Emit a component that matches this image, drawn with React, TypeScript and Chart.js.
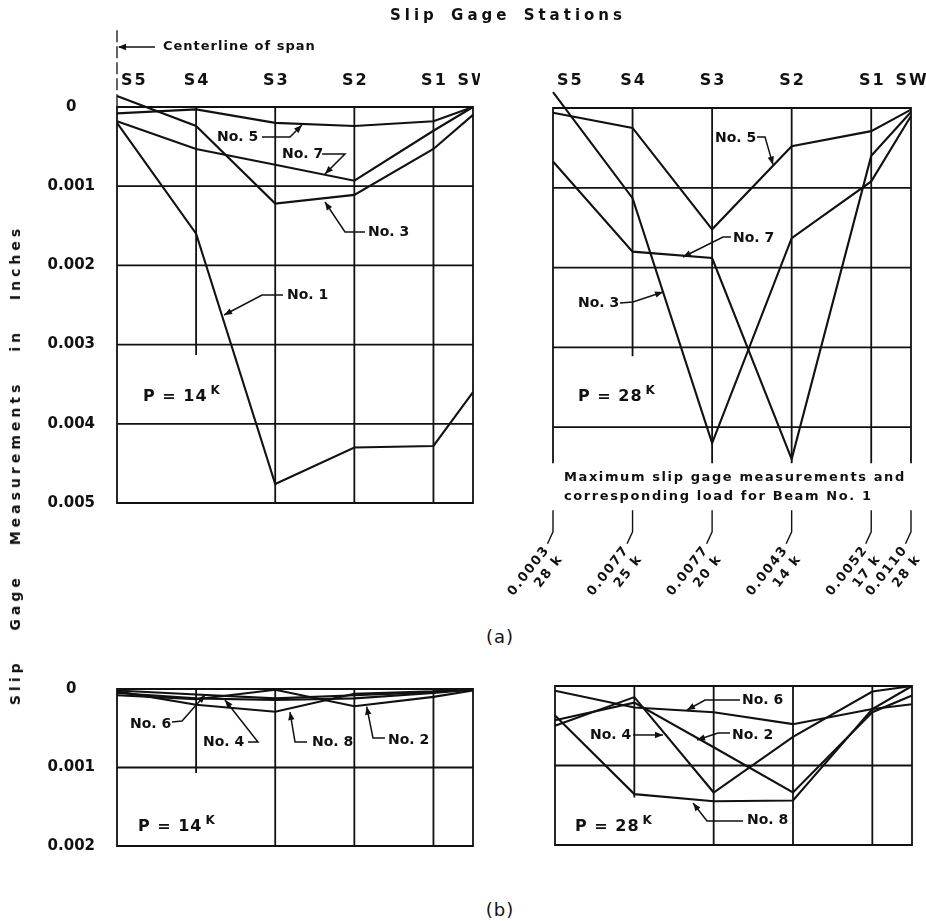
import React, { useEffect, useRef } from 'react';
import { Chart, registerables } from 'chart.js';

Chart.register(...registerables);

// ---------------- Data ----------------
const stations = ['S5', 'S4', 'S3', 'S2', 'S1', 'SW'];
const stationPos = [0, 1, 2, 3, 4, 4.5];

const yTicksA = [0, 0.001, 0.002, 0.003, 0.004, 0.005];
const yTickLabelsA = ['0', '0.001', '0.002', '0.003', '0.004', '0.005'];
const yTicksB = [0, 0.001, 0.002];
const yTickLabelsB = ['0', '0.001', '0.002'];

// (a) P = 14 k  (slip, inches)
const a14No1 = [0.0002, 0.0016, 0.00476, 0.0043, 0.00428, 0.0036];
const a14No3 = [-0.00014, 0.00024, 0.00122, 0.00111, 0.00053, 0.0001];
const a14No5 = [0.00008, 0.00003, 0.0002, 0.00024, 0.00018, 0];
const a14No7 = [0.00018, 0.00053, 0.00073, 0.00093, 0.0003, 0];

// (a) P = 28 k
const a28No3 = [-0.0002, 0.00113, 0.0042, 0.00163, 0.00092, 0.0001];
const a28No5 = [0.00006, 0.00025, 0.00152, 0.00048, 0.00029, 0.00002];
const a28No7 = [0.00067, 0.0018, 0.00188, 0.0044, 0.0006, 0.00005];

// Maximum slip gage measurements and load for Beam No. 1
const maxSlip = ['0.0003', '0.0077', '0.0077', '0.0043', '0.0052', '0.0110'];
const maxLoad = ['28 k', '25 k', '20 k', '14 k', '17 k', '28 k'];

// (b) P = 14 k
const b14No2 = [0.00008, 0.00013, 0.00001, 0.00022, 0.0001, 0.00002];
const b14No4 = [0.00005, 0.00012, 0.00014, 0.00012, 0.00005, 0.00001];
const b14No6 = [0.00002, 0.00007, 0.00012, 0.00008, 0.00004, 0];
const b14No8 = [0.00003, 0.0002, 0.00029, 0.00006, 0.00003, 0];

// (b) P = 28 k
const b28No2 = [0.00043, 0.00021, 0.00077, 0.00134, 0.00033, 0.00012];
const b28No4 = [0.0005, 0.00014, 0.00134, 0.00064, 0.00007, 0];
const b28No6 = [0.00006, 0.00027, 0.00033, 0.00048, 0.00029, 0.00023];
const b28No8 = [0.00037, 0.00136, 0.00145, 0.00144, 0.00029, 0];

// ---------------- Styling ----------------
const INK = '#111';
const FONT = '"DejaVu Sans", sans-serif';

type Pt = [number, number];
type Note = { text: string; at: Pt; leader?: Pt[] };
type Series = { label: string; values: number[] };
type PanelCfg = {
  left: number; top: number; width: number; height: number;
  yAxisWidth: number;
  padding: { left: number; top: number; right: number; bottom: number };
  yMax: number;
  yTicks?: number[]; yTickLabels?: string[];
  hLines: number[];
  vEnds: number[];
  series: Series[];
  notes: Note[];
  load: string; loadAt: Pt;
  stationLabelY?: number;
  centerline?: boolean;
  maxLabels?: boolean;
};

function setFont(ctx: any, size: number, weight = 'bold', spacing = 0) {
  ctx.font = `${weight} ${size}px ${FONT}`;
  ctx.letterSpacing = `${spacing}px`;
}

function arrowHead(ctx: any, from: Pt, to: Pt) {
  const ang = Math.atan2(to[1] - from[1], to[0] - from[0]);
  const L = 8, W = 3.2;
  const bx = to[0] - L * Math.cos(ang), by = to[1] - L * Math.sin(ang);
  ctx.beginPath();
  ctx.moveTo(to[0], to[1]);
  ctx.lineTo(bx + W * Math.sin(ang), by - W * Math.cos(ang));
  ctx.lineTo(bx - W * Math.sin(ang), by + W * Math.cos(ang));
  ctx.closePath();
  ctx.fill();
}

function makePlugin(cfg: PanelCfg) {
  return {
    id: 'panelDecor',
    beforeDatasetsDraw(chart: any) {
      const { ctx } = chart;
      const xs = chart.scales.x, ys = chart.scales.y;
      const X = (v: number) => xs.getPixelForValue(v);
      const Y = (v: number) => ys.getPixelForValue(v);
      ctx.save();
      ctx.strokeStyle = INK;
      ctx.lineWidth = 1.8;
      ctx.lineCap = 'square';
      ctx.beginPath();
      for (const h of cfg.hLines) {
        const py = Y(h);
        ctx.moveTo(X(0), py);
        ctx.lineTo(X(4.5), py);
      }
      stationPos.forEach((s, i) => {
        const px = X(s);
        ctx.moveTo(px, Y(0));
        ctx.lineTo(px, Y(cfg.vEnds[i]));
      });
      ctx.stroke();
      ctx.restore();
    },
    afterDatasetsDraw(chart: any) {
      const { ctx } = chart;
      const xs = chart.scales.x, ys = chart.scales.y;
      const X = (v: number) => xs.getPixelForValue(v);
      const Y = (v: number) => ys.getPixelForValue(v);
      ctx.save();
      ctx.fillStyle = INK;
      ctx.strokeStyle = INK;

      // station labels
      if (cfg.stationLabelY !== undefined) {
        setFont(ctx, 16, 'bold', 2);
        ctx.textBaseline = 'middle';
        stationPos.forEach((s, i) => {
          if (i === 0) {
            ctx.textAlign = 'left';
            ctx.fillText(stations[i], X(s) + 4, Y(cfg.stationLabelY as number));
          } else {
            ctx.textAlign = 'center';
            ctx.fillText(stations[i], X(s) + 1, Y(cfg.stationLabelY as number));
          }
        });
      }

      // centerline of span
      if (cfg.centerline) {
        ctx.lineWidth = 1.3;
        ctx.setLineDash([12, 4]);
        ctx.beginPath();
        ctx.moveTo(X(0), Y(-0.00097));
        ctx.lineTo(X(0), Y(0));
        ctx.stroke();
        ctx.setLineDash([]);
        const cy = Y(-0.000758);
        ctx.lineWidth = 1.5;
        ctx.beginPath();
        ctx.moveTo(X(0.48), cy);
        ctx.lineTo(X(0) + 2, cy);
        ctx.stroke();
        arrowHead(ctx, [X(0.48), cy], [X(0) + 1, cy]);
        setFont(ctx, 13, 'bold', 1);
        ctx.textAlign = 'left';
        ctx.textBaseline = 'middle';
        ctx.fillText('Centerline of span', X(0.581), cy);
      }

      // curve notes with leaders
      ctx.lineWidth = 1.5;
      for (const n of cfg.notes) {
        setFont(ctx, 14, 'bold', 0);
        ctx.textAlign = 'left';
        ctx.textBaseline = 'middle';
        ctx.fillText(n.text, X(n.at[0]), Y(n.at[1]));
        if (n.leader && n.leader.length > 1) {
          const pts = n.leader.map((p) => [X(p[0]), Y(p[1])] as Pt);
          ctx.beginPath();
          ctx.moveTo(pts[0][0], pts[0][1]);
          for (let k = 1; k < pts.length; k++) ctx.lineTo(pts[k][0], pts[k][1]);
          ctx.stroke();
          arrowHead(ctx, pts[pts.length - 2], pts[pts.length - 1]);
        }
      }

      // load label P = xx^K
      setFont(ctx, 16, 'bold', 1);
      ctx.textAlign = 'left';
      ctx.textBaseline = 'middle';
      const lx = X(cfg.loadAt[0]), ly = Y(cfg.loadAt[1]);
      const main = `P = ${cfg.load}`;
      ctx.fillText(main, lx, ly);
      const w = ctx.measureText(main).width;
      setFont(ctx, 12, 'bold', 0);
      ctx.fillText('K', lx + w + 3, ly - 6);

      // maximum measurements (Beam No. 1)
      if (cfg.maxLabels) {
        setFont(ctx, 13, 'bold', 1.6);
        ctx.textAlign = 'left';
        ctx.textBaseline = 'middle';
        ctx.fillText('Maximum slip gage measurements and', X(0.138), Y(0.004637));
        ctx.fillText('corresponding load for Beam No. 1', X(0.138), Y(0.004875));
        ctx.lineWidth = 1.4;
        stationPos.forEach((s, i) => {
          const px = X(s);
          ctx.beginPath();
          ctx.moveTo(px, Y(0.00504));
          ctx.lineTo(px, Y(0.00531));
          ctx.lineTo(px - 5.5, Y(0.00546));
          ctx.stroke();
          ctx.save();
          ctx.translate(px - 6, Y(0.00551));
          ctx.rotate((-52 * Math.PI) / 180);
          setFont(ctx, 13, 'bold', 1.5);
          ctx.textAlign = 'right';
          ctx.textBaseline = 'middle';
          ctx.fillText(maxSlip[i], 0, 0);
          ctx.fillText(maxLoad[i], 1, 16);
          ctx.restore();
        });
      }
      ctx.restore();
    },
  };
}

function Panel({ cfg }: { cfg: PanelCfg }) {
  const ref = useRef<HTMLCanvasElement>(null);
  useEffect(() => {
    const canvas = ref.current;
    if (!canvas) return;
    const chart = new Chart(canvas, {
      type: 'scatter',
      data: {
        datasets: cfg.series.map((s) => ({
          label: s.label,
          data: stationPos.map((x, i) => ({ x, y: s.values[i] })),
          showLine: true,
          borderColor: INK,
          backgroundColor: INK,
          borderWidth: 2.1,
          pointRadius: 0,
          pointHoverRadius: 0,
          tension: 0,
          clip: false as any,
        })),
      },
      options: {
        responsive: false,
        animation: false,
        devicePixelRatio: 1,
        events: [],
        layout: { padding: cfg.padding },
        plugins: { legend: { display: false }, tooltip: { enabled: false } },
        scales: {
          x: { type: 'linear', min: 0, max: 4.5, display: false },
          y: {
            type: 'linear',
            min: 0,
            max: cfg.yMax,
            reverse: true,
            display: !!cfg.yTicks,
            grid: { display: false, drawTicks: false },
            border: { display: false },
            ticks: {
              padding: 22,
              crossAlign: 'center',
              color: INK,
              autoSkip: false,
              font: { family: FONT, size: 15, weight: 'bold' },
              callback: (_v: any, i: number) => (cfg.yTickLabels ? cfg.yTickLabels[i] : ''),
            },
            afterBuildTicks: (s: any) => {
              if (cfg.yTicks) s.ticks = cfg.yTicks.map((v) => ({ value: v }));
            },
            afterFit: (s: any) => {
              s.width = cfg.yAxisWidth;
              s.paddingTop = 0;
              s.paddingBottom = 0;
            },
          } as any,
        },
      },
      plugins: [makePlugin(cfg) as any],
    });
    return () => chart.destroy();
  }, [cfg]);
  return (
    <canvas
      ref={ref}
      width={cfg.width}
      height={cfg.height}
      style={{ position: 'absolute', left: cfg.left, top: cfg.top, width: cfg.width, height: cfg.height }}
    />
  );
}

const panelTL: PanelCfg = {
  left: 0, top: 20, width: 480, height: 500, yAxisWidth: 117,
  padding: { left: 0, top: 87, right: 7, bottom: 17 },
  yMax: 0.005, yTicks: yTicksA, yTickLabels: yTickLabelsA,
  hLines: yTicksA,
  vEnds: [0.005, 0.00312, 0.005, 0.005, 0.005, 0.005],
  series: [
    { label: 'No. 1', values: a14No1 },
    { label: 'No. 3', values: a14No3 },
    { label: 'No. 5', values: a14No5 },
    { label: 'No. 7', values: a14No7 },
  ],
  notes: [
    { text: 'No. 5', at: [1.264, 0.000379], leader: [[1.833, 0.000379], [2.187, 0.000379], [2.338, 0.000227]] },
    { text: 'No. 7', at: [2.086, 0.000593], leader: [[2.591, 0.000593], [2.882, 0.000593], [2.629, 0.000846]] },
    { text: 'No. 3', at: [3.173, 0.001578], leader: [[3.135, 0.001578], [2.882, 0.001578], [2.629, 0.0012]] },
    { text: 'No. 1', at: [2.149, 0.002374], leader: [[2.098, 0.002374], [1.833, 0.002374], [1.353, 0.002626]] },
  ],
  load: '14', loadAt: [0.329, 0.003662],
  stationLabelY: -0.000328,
  centerline: true,
};

const panelTR: PanelCfg = {
  left: 480, top: 20, width: 446, height: 600, yAxisWidth: 0,
  padding: { left: 73, top: 88, right: 15, bottom: 113 },
  yMax: 0.005,
  hLines: [0, 0.001, 0.002, 0.003, 0.004],
  vEnds: [0.00444, 0.0031, 0.00444, 0.00444, 0.00444, 0.00444],
  series: [
    { label: 'No. 3', values: a28No3 },
    { label: 'No. 5', values: a28No5 },
    { label: 'No. 7', values: a28No7 },
  ],
  notes: [
    { text: 'No. 5', at: [2.036, 0.000376], leader: [[2.564, 0.000363], [2.665, 0.000363], [2.765, 0.00071]] },
    { text: 'No. 7', at: [2.262, 0.001629], leader: [[2.237, 0.001617], [2.137, 0.001617], [1.634, 0.001867]] },
    { text: 'No. 3', at: [0.314, 0.002444], leader: [[0.842, 0.002444], [1.006, 0.002431], [1.383, 0.002306]] },
  ],
  load: '28', loadAt: [0.314, 0.003622],
  stationLabelY: -0.000338,
  maxLabels: true,
};

const panelBL: PanelCfg = {
  left: 0, top: 660, width: 480, height: 200, yAxisWidth: 117,
  padding: { left: 0, top: 29, right: 7, bottom: 14 },
  yMax: 0.002, yTicks: yTicksB, yTickLabels: yTickLabelsB,
  hLines: yTicksB,
  vEnds: [0.002, 0.00106, 0.002, 0.002, 0.002, 0.002],
  series: [
    { label: 'No. 2', values: b14No2 },
    { label: 'No. 4', values: b14No4 },
    { label: 'No. 6', values: b14No6 },
    { label: 'No. 8', values: b14No8 },
  ],
  notes: [
    { text: 'No. 6', at: [0.164, 0.000446], leader: [[0.695, 0.00042], [0.822, 0.000408], [1.112, 0.000076]] },
    { text: 'No. 4', at: [1.087, 0.000675], leader: [[1.656, 0.000675], [1.782, 0.000675], [1.365, 0.00014]] },
    { text: 'No. 8', at: [2.465, 0.000675], leader: [[2.402, 0.000675], [2.25, 0.000675], [2.187, 0.000293]] },
    { text: 'No. 2', at: [3.426, 0.00065], leader: [[3.388, 0.000624], [3.236, 0.000624], [3.156, 0.000225]] },
  ],
  load: '14', loadAt: [0.265, 0.001758],
};

const panelBR: PanelCfg = {
  left: 480, top: 660, width: 446, height: 200, yAxisWidth: 0,
  padding: { left: 75, top: 26, right: 14, bottom: 15 },
  yMax: 0.002,
  hLines: [0, 0.001, 0.002],
  vEnds: [0.002, 0.00139, 0.002, 0.002, 0.002, 0.002],
  series: [
    { label: 'No. 2', values: b28No2 },
    { label: 'No. 4', values: b28No4 },
    { label: 'No. 6', values: b28No6 },
    { label: 'No. 8', values: b28No8 },
  ],
  notes: [
    { text: 'No. 6', at: [2.357, 0.000176], leader: [[2.332, 0.000176], [1.891, 0.000176], [1.664, 0.000302]] },
    { text: 'No. 4', at: [0.441, 0.000616], leader: [[0.983, 0.000616], [1.361, 0.000616]] },
    { text: 'No. 2', at: [2.231, 0.000616], leader: [[2.206, 0.000591], [2.055, 0.000591], [1.79, 0.000679]] },
    { text: 'No. 8', at: [2.42, 0.001686], leader: [[2.37, 0.001698], [1.916, 0.001698], [1.74, 0.001472]] },
  ],
  load: '28', loadAt: [0.252, 0.001774],
};

export default function App() {
  const text: React.CSSProperties = {
    position: 'absolute',
    whiteSpace: 'nowrap',
    lineHeight: 1,
    color: INK,
    fontFamily: FONT,
  };
  return (
    <div
      style={{
        position: 'absolute', left: 0, top: 0, width: 926, height: 921,
        background: '#fff', overflow: 'hidden',
      }}
    >
      <Panel cfg={panelTL} />
      <Panel cfg={panelTR} />
      <Panel cfg={panelBL} />
      <Panel cfg={panelBR} />
      <div style={{ ...text, left: 508, top: 15, transform: 'translate(-50%,-50%)', fontWeight: 'bold', fontSize: 15, letterSpacing: '4px', wordSpacing: '4px' }}>
        Slip Gage Stations
      </div>
      <div style={{ ...text, left: 15, top: 465, transform: 'translate(-50%,-50%) rotate(-90deg)', fontWeight: 'bold', fontSize: 14, letterSpacing: '4px', wordSpacing: '20px' }}>
        Slip Gage Measurements in Inches
      </div>
      <div style={{ ...text, left: 500, top: 637, transform: 'translate(-50%,-50%)', fontSize: 18, letterSpacing: '1px' }}>(a)</div>
      <div style={{ ...text, left: 500, top: 910, transform: 'translate(-50%,-50%)', fontSize: 18, letterSpacing: '1px' }}>(b)</div>
    </div>
  );
}
